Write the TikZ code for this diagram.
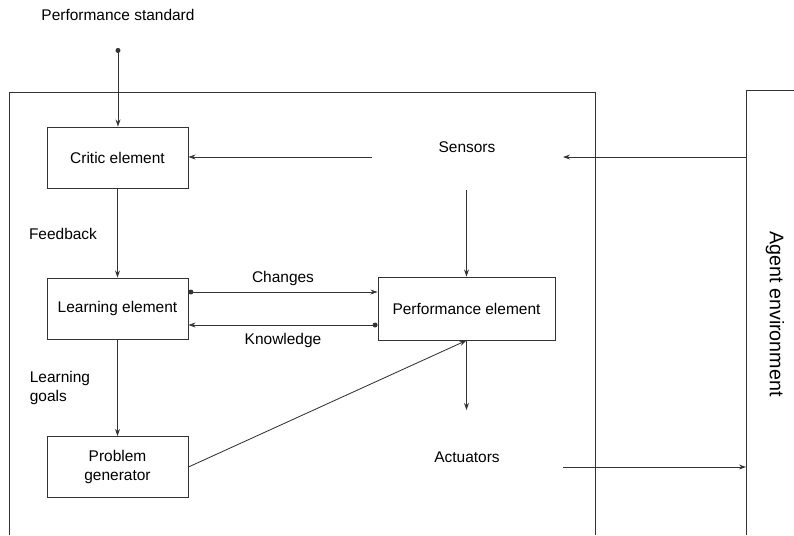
\documentclass[tikz,border=0pt]{standalone}
\usepackage{fontspec}
\setmainfont{Liberation Sans}
\usetikzlibrary{arrows.meta}
\begin{document}
\begin{tikzpicture}[x=0.025cm, y=-0.025cm, font=\fontsize{11}{13.2}\selectfont]
    \tikzstyle{elem}=[draw=black!80, line width=0.6pt, rectangle, minimum width=3.525cm, minimum height=1.525cm, inner sep=0pt]
    \tikzstyle{marr}=[draw=black!80, line width=0.6pt, -{Stealth[length=5pt, width=3.5pt]}]
    \tikzstyle{dotarr}=[marr, {Circle[length=3.5pt]}-{Stealth[length=5pt, width=3.5pt]}]
    \tikzstyle{wall}=[draw=black!80, line width=0.6pt]

    \useasboundingbox (0,0) rectangle (794,535);

    % agent and environment
    \draw[wall] (9,535) -- (9,92) -- (595,92) -- (595,535);
    \draw[wall] (794,90) -- (746,90) -- (746,535);
    \node[rotate=-90, font=\fontsize{14}{16}\selectfont] (env) at (775,314) {Agent environment};

    % elements
    \node[elem] (critic) at (117.5,157.5) {Critic element};
    \node[elem] (learn) at (117.5,308.5) {Learning element};
    \node[elem, align=center] (prob) at (117.5,467) {Problem\\generator};
    \node[elem, minimum width=4.425cm, minimum height=1.575cm] (perf) at (466.5,308.5) {Performance element};

    % labels
    \node (std) at (118,15) {Performance standard};
    \node (sens) at (467,147) {Sensors};
    \node (act) at (467,457) {Actuators};
    \node (fb) at (63,234) {Feedback};
    \node[align=left] (goals) at (60,388) {Learning\\goals};
    \node (chg) at (283,278) {Changes};
    \node (know) at (283,340) {Knowledge};

    \coordinate (stdin) at (118,48);
    \coordinate (sensl) at (372,157);
    \coordinate (sensb) at (466.5,190);
    \coordinate (sensr) at (563,157);
    \coordinate (envin) at (746,157);
    \coordinate (actb) at (466.5,410);
    \coordinate (actr) at (563,467);
    \coordinate (envout) at (746,467);

    % connectors
    \draw[dotarr] (stdin) -- (critic.north -| stdin);
    \draw[marr] (sensl) -- (critic.east |- sensl);
    \draw[marr] (envin) -- (sensr);
    \draw[marr] (sensb) -- (perf.north);
    \draw[marr] (critic.south) -- (learn.north);
    \draw[marr] (learn.south) -- (prob.north);
    \draw[dotarr] (learn.east |- 0,292) -- (perf.west |- 0,292);
    \draw[dotarr] (perf.west |- 0,325) -- (learn.east |- 0,325);
    \draw[marr] (prob.east) -- (perf.south);
    \draw[marr] (perf.south) -- (actb);
    \draw[marr] (actr) -- (envout);
\end{tikzpicture}
\end{document}
